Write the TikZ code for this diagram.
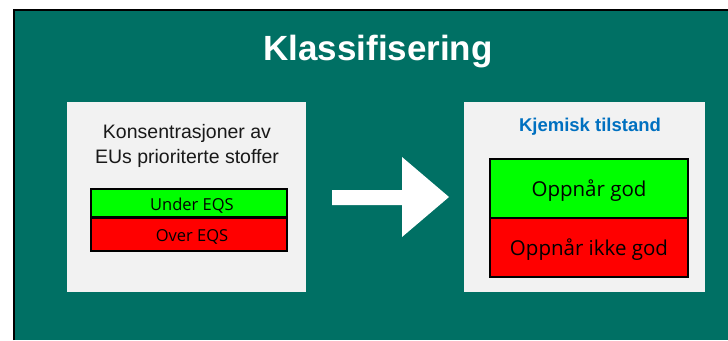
\documentclass[tikz,border=0pt]{standalone}
\usepackage{fontspec}
\setmainfont{Liberation Sans}
\newfontfamily\boxfont{Open Sans}
\definecolor{teal1}{RGB}{0,112,100}
\definecolor{panelgray}{RGB}{242,242,242}
\definecolor{okgreen}{RGB}{0,255,0}
\definecolor{badred}{RGB}{255,0,0}
\definecolor{titleblue}{RGB}{0,112,192}
\tikzset{
  panel/.style={fill=panelgray, draw=none},
  statebox/.style={draw=black, line width=1.3pt, inner sep=0pt},
  boxtext/.style={text=black, inner sep=0pt},
}
\begin{document}
\begin{tikzpicture}[x=1pt,y=-1pt]
\useasboundingbox (0,0) rectangle (728,340);
\fill[white] (0,0) rectangle (728,340);
% background
\fill[teal1] (13,9) rectangle (728,340);
\draw[black, line width=2pt] (14,340) -- (14,10) -- (728,10);
% title
\node[font=\bfseries\fontsize{35}{40}\selectfont, text=white] (title) at (378,52) {Klassifisering};
% left panel
\fill[panel] (67,102) rectangle (306,292);
\node[font=\fontsize{19.5}{25}\selectfont, text=black!90, align=center] (conc) at (187,146) {Konsentrasjoner av\\EUs prioriterte stoffer};
\filldraw[statebox, fill=okgreen] (91,189) rectangle (287,217);
\filldraw[statebox, fill=badred] (91,218) rectangle (287,251);
\node[boxtext, font=\boxfont\fontsize{16.5}{18}\selectfont] (under) at (192,206) {Under EQS};
\node[boxtext, font=\boxfont\fontsize{16.5}{18}\selectfont] (over) at (192,237) {Over EQS};
% arrow
\fill[white] (332,190) -- (402,190) -- (402,157) -- (449,197) -- (402,237) -- (402,205) -- (332,205) -- cycle;
% right panel
\fill[panel] (464,102) rectangle (705,292);
\node[font=\bfseries\fontsize{18.5}{22}\selectfont, text=titleblue] (kjem) at (590,127) {Kjemisk tilstand};
\filldraw[statebox, fill=okgreen] (490,159) rectangle (688,218);
\filldraw[statebox, fill=badred] (490,218) rectangle (688,277);
\node[boxtext, font=\boxfont\fontsize{20.5}{24}\selectfont] (god) at (589,191) {Oppnår god};
\node[boxtext, font=\boxfont\fontsize{20.5}{24}\selectfont] (ikke) at (589,250) {Oppnår ikke god};
\end{tikzpicture}
\end{document}
